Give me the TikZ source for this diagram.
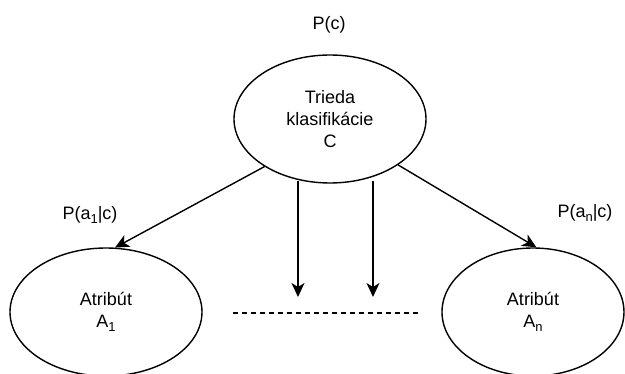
\documentclass[tikz,border=0pt]{standalone}
\usepackage{fontspec}
\setmainfont{Liberation Sans}
\usetikzlibrary{shapes.geometric,arrows.meta}
\newcommand{\sbs}[1]{\raisebox{-4pt}{\fontsize{13}{13}\selectfont #1}}
\begin{document}
\begin{tikzpicture}[x=1pt,y=-1pt,
  every node/.style={font=\fontsize{18}{22}\selectfont},
  ell/.style={draw,ellipse,line width=1.4pt,minimum width=192pt,minimum height=128pt,inner sep=0pt,align=center},
  lbl/.style={inner sep=0pt},
  arr/.style={line width=1.4pt,-{Stealth[length=14pt,width=13pt,inset=4pt]}},
  dsh/.style={line width=1.4pt,dash pattern=on 5pt off 4pt}]
\useasboundingbox (0,0) rectangle (625,374);
\node[ell] (top) at (330,119) {Trieda\\klasifikácie\\C};
\node[ell] (a1) at (106,312) {Atribút\\A\sbs{1}};
\node[ell,minimum width=182pt] (an) at (533,312) {Atribút\\A\sbs{n}};
\node[lbl] (pc) at (329,25) {P(c)};
\node[lbl] (pa1) at (90,215) {P(a\sbs{1}|c)};
\node[lbl] (pan) at (585,213) {P(a\sbs{n}|c)};
\coordinate (v1s) at (298,181);
\coordinate (v1e) at (298,297);
\coordinate (v2s) at (373,181);
\coordinate (v2e) at (373,297);
\coordinate (d1) at (233,313);
\coordinate (d2) at (421,313);
\draw[arr] (top.-144.6) -- (a1.82);
\draw[arr] (top.-34) -- (an.87);
\draw[arr] (v1s) -- (v1e);
\draw[arr] (v2s) -- (v2e);
\draw[dsh] (d1) -- (d2);
\end{tikzpicture}
\end{document}
